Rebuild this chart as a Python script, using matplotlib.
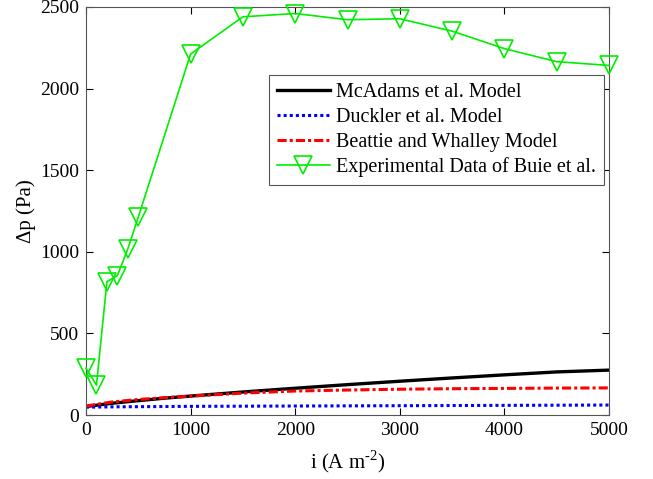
import matplotlib.pyplot as plt
import numpy as np

# data
i_exp = [0, 100, 200, 300, 400, 500, 1000, 1500, 2000, 2500, 3000, 3500, 4000, 4500, 5000]
dp_exp = [287, 183, 817, 854, 1018, 1213, 2212, 2440, 2460, 2422, 2428, 2352, 2245, 2165, 2142]

i_model = [0, 250, 500, 750, 1000, 1500, 2000, 2500, 3000, 3500, 4000, 4500, 5000]
dp_mcadams = [52, 72, 88, 103, 116, 141, 164, 186, 207, 227, 246, 264, 275]
dp_duckler = [48, 50, 51, 52, 53, 54, 55, 56, 57, 58, 59, 60, 61]
dp_beattie = [55, 80, 95, 106, 116, 134, 147, 153, 158, 161, 163, 165, 166]

plt.rcParams['font.family'] = ['Liberation Serif', 'DejaVu Serif']
plt.rcParams['mathtext.fontset'] = 'custom'
plt.rcParams['mathtext.rm'] = 'Liberation Serif'

fig = plt.figure(figsize=(6.53, 4.79), dpi=100)
ax = fig.add_axes([86 / 653, 1 - 415 / 479, 523 / 653, 408 / 479])

ax.plot(i_model, dp_mcadams, color='black', lw=2.4, label='McAdams et al. Model')
ax.plot(i_model, dp_duckler, color='blue', lw=2.2, ls=(0, (1, 1)), label='Duckler et al. Model')
ax.plot(i_model, dp_beattie, color='red', lw=2.2, ls=(0, (3, 1, 1, 1)), label='Beattie and Whalley Model')
ax.plot(i_exp, dp_exp, color='#00ee00', lw=1.2, marker='v', markersize=13,
        markerfacecolor='none', markeredgecolor='#00ee00', markeredgewidth=1.2,
        clip_on=False, zorder=5, label='Experimental Data of Buie et al.')

ax.set_xlim(0, 5000)
ax.set_ylim(0, 2500)
ax.set_xticks(np.arange(0, 5001, 1000))
ax.set_yticks(np.arange(0, 2501, 500))
ax.tick_params(direction='in', top=True, right=True, labelsize=14, length=5, width=0.8, pad=5)
for s in ax.spines.values():
    s.set_linewidth(0.8)
    s.set_color('#555555')

ax.set_xlabel('i (A m$^{\\mathregular{\\text{-}2}}$)', fontsize=15, labelpad=7)
ax.set_ylabel('Δp (Pa)', fontsize=15, labelpad=3)

leg = ax.legend(loc='upper right', bbox_to_anchor=(0.99, 0.833), borderaxespad=0,
                fontsize=14.5, fancybox=False, framealpha=1, edgecolor='#555555',
                handlelength=2.6, handletextpad=0.3, borderpad=0.4, labelspacing=0.28)
leg.get_frame().set_linewidth(0.8)

fig.savefig('out.png', dpi=100)
